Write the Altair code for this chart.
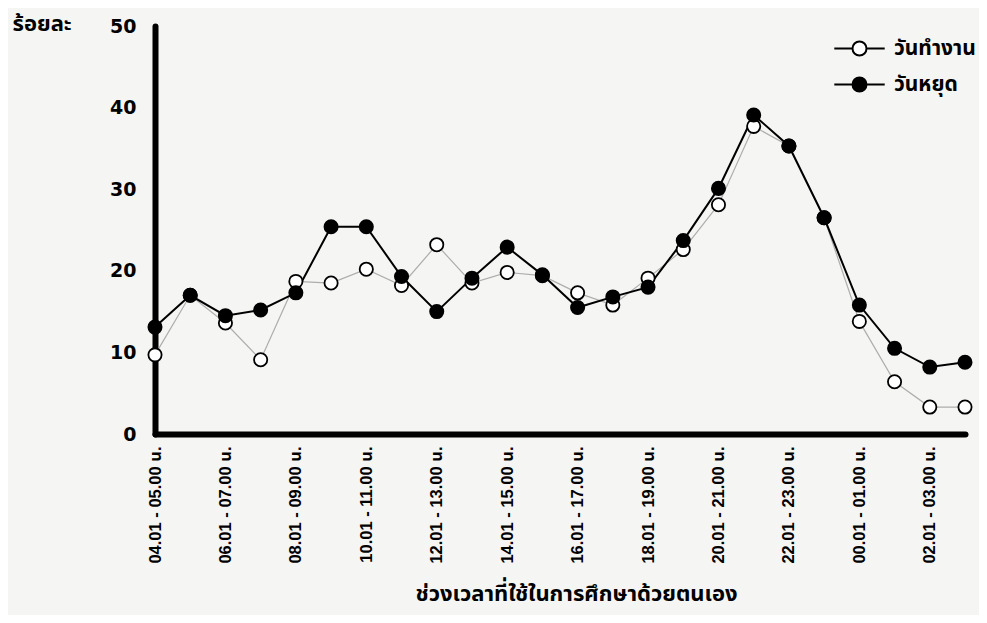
import altair as alt
import pandas as pd

slots = [
    "04.01 - 05.00 น.", "05.01 - 06.00 น.", "06.01 - 07.00 น.", "07.01 - 08.00 น.",
    "08.01 - 09.00 น.", "09.01 - 10.00 น.", "10.01 - 11.00 น.", "11.01 - 12.00 น.",
    "12.01 - 13.00 น.", "13.01 - 14.00 น.", "14.01 - 15.00 น.", "15.01 - 16.00 น.",
    "16.01 - 17.00 น.", "17.01 - 18.00 น.", "18.01 - 19.00 น.", "19.01 - 20.00 น.",
    "20.01 - 21.00 น.", "21.01 - 22.00 น.", "22.01 - 23.00 น.", "23.01 - 24.00 น.",
    "00.01 - 01.00 น.", "01.01 - 02.00 น.", "02.01 - 03.00 น.", "03.01 - 04.00 น.",
]
workday = [9.7, 17.0, 13.6, 9.1, 18.7, 18.5, 20.2, 18.2, 23.2, 18.5, 19.8, 19.4,
           17.3, 15.8, 19.1, 22.6, 28.1, 37.7, 35.3, 26.5, 13.8, 6.4, 3.3, 3.3]
holiday = [13.1, 17.0, 14.5, 15.2, 17.3, 25.4, 25.4, 19.3, 15.0, 19.1, 22.9, 19.5,
           15.5, 16.8, 18.0, 23.7, 30.1, 39.1, 35.3, 26.5, 15.8, 10.5, 8.2, 8.8]
series_names = ["วันทำงาน", "วันหยุด"]
y_ticks = [0, 10, 20, 30, 40, 50]
x_title = "ช่วงเวลาที่ใช้ในการศึกษาด้วยตนเอง"
y_title = "ร้อยละ"

rows = []
for i, s in enumerate(slots):
    rows.append({"slot": s, "series": series_names[0], "value": workday[i], "ord": 0})
for i, s in enumerate(slots):
    rows.append({"slot": s, "series": series_names[1], "value": holiday[i], "ord": 1})
df = pd.DataFrame(rows)

THAI = "Noto Sans Thai, Loma, Garuda, Tahoma, sans-serif"
NUM = "DejaVu Sans, sans-serif"
LAB = "Liberation Sans Narrow, Liberation Sans, Noto Sans Thai, sans-serif"

x_enc = alt.X(
    "slot:O", sort=slots,
    scale=alt.Scale(type="point", padding=0),
    axis=alt.Axis(
        values=slots[::2], labelAngle=-90, labelFont=LAB, labelFontSize=16.5,
        labelFontWeight="bold", labelColor="black", labelPadding=12,
        ticks=False, grid=False, domainWidth=6, domainColor="black", domainCap="round",
        title=x_title, titleFont=THAI, titleFontSize=22, titleFontWeight="bold",
        titleColor="black", titlePadding=20, titleX=421,
    ),
)
y_enc = alt.Y(
    "value:Q",
    scale=alt.Scale(domain=[0, 50]),
    axis=alt.Axis(
        values=y_ticks, labelFont=NUM, labelFontSize=19, labelFontWeight="bold",
        labelColor="black", labelPadding=19, ticks=False, grid=False,
        domainWidth=6, domainColor="black", domainCap="round",
        title=y_title, titleAngle=0, titleAlign="left", titleBaseline="middle",
        titleX=-143, titleY=-3, titleFont=THAI, titleFontSize=22,
        titleFontWeight="bold", titleColor="black",
    ),
)

base = alt.Chart(df)

line_w = base.mark_line(color="#adadad", strokeWidth=1.2).encode(
    x=x_enc, y=y_enc
).transform_filter(alt.datum.series == series_names[0])

line_h = base.mark_line(color="black", strokeWidth=2).encode(
    x=x_enc, y=y_enc
).transform_filter(alt.datum.series == series_names[1])

PATH = "M-3.6,0H-1M1,0H3.6M-1,0A1,1 0 1,1 1,0A1,1 0 1,1 -1,0Z"

points = base.mark_point(filled=False, shape="circle", size=175, stroke="black",
                         strokeWidth=1.8, opacity=1).encode(
    x=x_enc, y=y_enc,
    fill=alt.Fill(
        "series:N",
        scale=alt.Scale(domain=series_names, range=["white", "black"]),
        legend=alt.Legend(
            title=None, orient="none", legendX=694, legendY=12,
            symbolType=PATH, symbolSize=196, symbolStrokeColor="black",
            symbolStrokeWidth=2, symbolFillColor="white",
            labelFont=THAI, labelFontSize=21, labelFontWeight="bold",
            labelColor="black", labelOffset=24, rowPadding=13, padding=0,
        ),
    ),
    order=alt.Order("ord:Q"),
)

chart = alt.layer(line_w, line_h, points).properties(
    width=971, height=607,
    autosize=alt.AutoSizeParams(type="fit", contains="padding"),
    background="#f5f5f3",
    padding={"left": 4, "top": 4, "right": 3, "bottom": 10},
).configure_view(stroke=None)

chart.save("out.html", embed_options={"renderer": "svg", "actions": False})
